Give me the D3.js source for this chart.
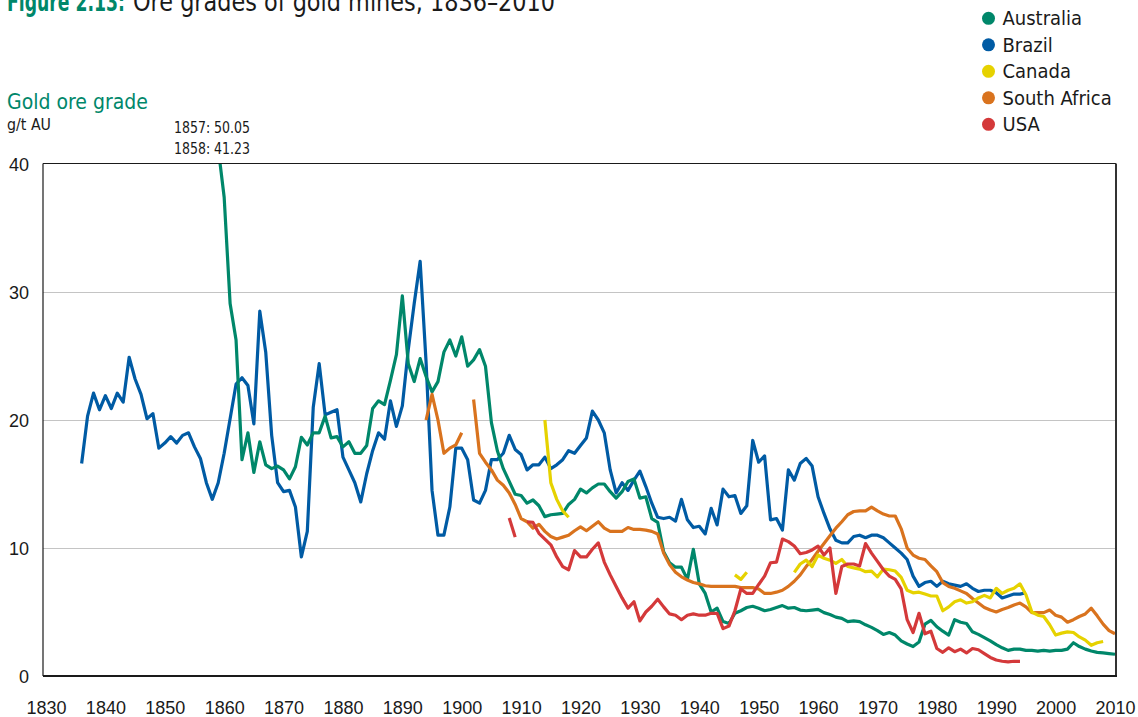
<!DOCTYPE html>
<html><head><meta charset="utf-8">
<script src="https://cdn.jsdelivr.net/npm/d3@7"></script>
<style>
html,body{margin:0;padding:0;background:#fff;}
svg{display:block;font-family:"Liberation Sans Narrow","Arial Narrow","DejaVu Sans Condensed","Roboto Condensed",sans-serif;font-stretch:condensed;}
</style></head>
<body><svg id="chart" width="1138" height="717"></svg>
<script>
// ---- data (visual year positions) ----
const xTicks = [1830,1840,1850,1860,1870,1880,1890,1900,1910,1920,1930,1940,1950,1960,1970,1980,1990,2000,2010];
const yTicks = [0,10,20,30,40];
const countries = ["Australia","Brazil","Canada","South Africa","USA"];
const colors = ["#00876a","#005ba4","#e6d200","#d9731e","#d4393a"];

const brazilStart = 1836;
const brazil = [16.6,20.3,22.1,20.8,21.9,20.9,22.1,21.4,24.9,23.2,22.0,20.1,20.5,17.8,18.2,18.7,18.2,18.8,19.0,17.9,
 17.0,15.1,13.8,15.1,17.4,20.1,22.8,23.3,22.7,19.7,28.5,25.3,18.8,15.1,14.4,14.5,13.2,9.3,11.3,21.0,
 24.4,20.4,20.6,20.8,17.1,16.1,15.1,13.6,15.8,17.6,19.0,18.5,21.5,19.5,21.1,25.5,29.1,32.4,24.5,14.5,
 11.0,11.0,13.2,17.8,17.8,16.9,13.75,13.5,14.5,16.9,16.9,17.4,18.8,17.7,17.3,16.1,16.5,16.5,17.1,16.2,
 16.5,16.9,17.6,17.4,18.0,18.6,20.7,20.0,19.0,16.1,14.3,15.1,14.5,15.3,16.0,14.8,13.5,12.4,12.3,12.4,
 12.1,13.8,12.2,11.6,11.7,11.1,13.1,11.8,14.6,14.0,14.1,12.7,13.3,18.4,16.7,17.2,12.2,12.3,11.4,16.1,
 15.3,16.6,17.0,16.4,14.0,12.7,11.5,10.6,10.4,10.4,10.9,11.0,10.8,11.0,11.0,10.8,10.4,10.0,9.6,9.1,
 7.8,7.0,7.3,7.4,7.0,7.4,7.2,7.1,7.0,7.2,6.85,6.6,6.7,6.7,6.5,6.1,6.25,6.4,6.4,6.5];

const australiaStart = 1858;
const australia = [50.05,41.23,37.4,29.1,26.25,16.9,19.0,15.9,18.3,16.5,16.2,16.4,16.1,15.4,16.35,18.65,18.05,19.0,19.0,20.3,
 18.6,18.7,17.9,18.3,17.4,17.4,18.0,20.9,21.5,21.2,23.1,25.1,29.7,24.4,23.0,24.8,23.4,22.2,23.0,25.3,
 26.25,25.0,26.5,24.2,24.7,25.5,24.2,19.8,17.6,16.2,15.2,14.2,14.1,13.5,13.75,13.3,12.45,12.6,12.65,12.7,
 13.4,13.8,14.6,14.3,14.7,15.0,15.0,14.4,13.9,14.4,15.2,15.4,13.9,14.0,12.3,12.0,9.7,8.85,8.5,8.5,
 7.55,9.9,7.2,6.45,5.0,5.3,4.25,4.1,4.9,5.1,5.35,5.45,5.3,5.1,5.2,5.35,5.5,5.3,5.35,5.15,
 5.1,5.15,5.2,4.95,4.8,4.6,4.5,4.25,4.3,4.25,4.0,3.8,3.55,3.25,3.4,3.2,2.75,2.5,2.3,2.65,
 4.05,4.35,3.85,3.5,3.2,4.4,4.2,4.1,3.45,3.25,3.0,2.75,2.45,2.2,2.0,2.1,2.1,2.0,2.0,1.95,
 2.0,1.95,2.0,2.0,2.1,2.6,2.3,2.1,1.95,1.85,1.8,1.75,1.7];

const southAfricaStart = 1894;
const southAfrica = [20.0,22.0,20.0,17.4,17.8,18.05,19.0,null,21.6,17.4,16.7,16.1,15.3,14.9,14.3,13.4,12.3,12.05,11.55,11.85,
 11.3,10.9,10.7,10.85,11.0,11.35,11.65,11.35,11.7,12.05,11.55,11.3,11.3,11.3,11.6,11.45,11.45,11.4,11.3,11.1,
 9.6,8.7,8.1,7.75,7.5,7.3,7.2,7.05,7.0,7.0,7.0,7.0,7.0,6.9,6.9,6.9,6.8,6.45,6.45,6.55,
 6.7,7.0,7.4,7.9,8.55,9.1,9.75,10.35,10.95,11.55,12.05,12.6,12.85,12.9,12.9,13.2,12.9,12.65,12.5,12.5,
 11.5,10.0,9.45,9.2,9.1,8.6,8.15,7.3,7.0,6.85,6.65,6.45,6.05,5.7,5.35,5.15,5.0,5.2,5.35,5.55,
 5.7,5.4,4.95,4.95,4.95,5.15,4.75,4.6,4.2,4.4,4.65,4.85,5.3,4.7,4.05,3.55,3.3];

const canada1Start = 1914;
const canada1 = [20.0,15.1,13.8,12.9,12.4];
const canada2Start = 1946;
const canada2 = [7.9,7.55,8.1];
const canada3Start = 1956;
const canada3 = [8.1,8.75,9.05,8.55,9.45,9.2,9.05,8.8,9.1,8.55,8.45,8.35,8.15,8.2,7.75,8.35,8.3,8.2,7.7,6.7,
 6.5,6.55,6.4,6.25,6.25,5.1,5.4,5.8,5.95,5.7,5.8,6.1,6.3,6.1,6.85,6.45,6.7,6.85,7.2,6.35,
 5.0,4.75,4.65,4.0,3.2,3.35,3.45,3.4,3.05,2.8,2.4,2.6,2.7];

const usa1Start = 1908;
const usa1 = [12.35,10.85];
const usa2Start = 1911;
const usa2 = [12.05,12.0,11.15,10.7,10.25,9.3,8.55,8.3,9.8,9.3,9.3,9.9,10.4,8.9,7.9,7.0,6.1,5.3,5.8,4.3,
 5.0,5.45,6.0,5.4,4.85,4.75,4.4,4.75,4.85,4.75,4.75,4.9,4.9,3.7,3.9,5.1,6.8,6.45,6.45,7.15,
 7.8,8.85,8.9,10.7,10.5,10.15,9.55,9.65,9.85,10.15,9.45,10.0,6.45,8.55,8.75,8.75,8.6,10.35,9.6,8.95,
 8.3,7.8,7.55,6.8,4.4,3.4,4.9,3.3,3.5,2.15,1.85,2.2,1.9,2.1,1.8,2.15,2.05,1.75,1.45,1.25,
 1.15,1.1,1.15,1.15];

const annotations = ["1857: 50.05","1858: 41.23"];

// ---- chart ----
const svg = d3.select("#chart");
const frame = {left:43, right:1116, top:163.5, bottom:676};
const x = d3.scaleLinear().domain([1830,2010]).range([46,1115]);
const y = d3.scaleLinear().domain([0,40]).range([676,164]);
const ink = "#1a1a1a";

// title (cropped at top as in the original)
svg.append("text").attr("x",7).attr("y",10.5).attr("font-size",27).attr("font-weight","bold")
  .attr("fill","#00876a").attr("textLength",118).attr("lengthAdjust","spacingAndGlyphs").text("Figure 2.13:");
svg.append("text").attr("x",133).attr("y",10.5).attr("font-size",27)
  .attr("fill",ink).attr("textLength",422).attr("lengthAdjust","spacingAndGlyphs").text("Ore grades of gold mines, 1836–2010");

svg.append("text").attr("x",7).attr("y",109).attr("font-size",21).attr("fill","#00876a").text("Gold ore grade");
svg.append("text").attr("x",7).attr("y",130).attr("font-size",16).attr("fill",ink)
  .attr("textLength",44).attr("lengthAdjust","spacingAndGlyphs").text("g/t AU");
svg.selectAll("text.ann").data(annotations).enter().append("text").attr("class","ann")
  .attr("x",174).attr("y",(d,i)=>132.5+i*21.5).attr("font-size",16.5).attr("fill",ink)
  .attr("textLength",76).attr("lengthAdjust","spacingAndGlyphs").text(d=>d);

// grid
svg.append("g").selectAll("line").data(yTicks.filter(t=>t>0&&t<40)).enter().append("line")
  .attr("x1",frame.left).attr("x2",frame.right).attr("y1",d=>Math.round(y(d))+0.5).attr("y2",d=>Math.round(y(d))+0.5)
  .attr("stroke","#c4c4c4").attr("stroke-width",1.2);

// y axis labels
const yAxis = d3.axisLeft(y).tickValues(yTicks).tickSize(0).tickPadding(0).tickFormat(d3.format("d"));
const gy = svg.append("g").attr("transform","translate(29,0)").call(yAxis);
gy.select(".domain").remove();
gy.selectAll("text").attr("font-size",18).attr("fill",ink).attr("font-family",null).attr("dy","0.36em");

// x axis labels
const xAxis = d3.axisBottom(x).tickValues(xTicks).tickSize(0).tickPadding(0).tickFormat(d3.format("d"));
const gx = svg.append("g").attr("transform","translate(0,701)").call(xAxis);
gx.select(".domain").remove();
gx.selectAll("text").attr("font-size",18).attr("fill",ink).attr("font-family",null).attr("dy","0.73em");

// clip
svg.append("clipPath").attr("id","clip").append("rect")
  .attr("x",frame.left).attr("y",frame.top).attr("width",frame.right-frame.left).attr("height",frame.bottom-frame.top);

const line = d3.line().defined(d=>d[1]!=null).x(d=>x(d[0])).y(d=>y(d[1])).curve(d3.curveLinear);
function pts(start, arr){ return arr.map((v,i)=>[start+i, v]); }
const series = [
  {c:1, segs:[pts(brazilStart,brazil)]},
  {c:0, segs:[pts(australiaStart,australia)]},
  {c:3, segs:[pts(southAfricaStart,southAfrica)]},
  {c:2, segs:[pts(canada1Start,canada1),pts(canada2Start,canada2),pts(canada3Start,canada3)]},
  {c:4, segs:[pts(usa1Start,usa1),pts(usa2Start,usa2)]}
];
const gl = svg.append("g").attr("clip-path","url(#clip)");
series.forEach(s=>{
  s.segs.forEach(seg=>{
    gl.append("path").datum(seg).attr("d",line).attr("fill","none")
      .attr("stroke",colors[s.c]).attr("stroke-width",3.2).attr("stroke-linejoin","round").attr("stroke-linecap","butt");
  });
});

// frame
svg.append("line").attr("x1",frame.left).attr("x2",frame.right).attr("y1",frame.top).attr("y2",frame.top).attr("stroke",ink).attr("stroke-width",1.2);
svg.append("line").attr("x1",frame.left).attr("x2",frame.left).attr("y1",frame.top).attr("y2",frame.bottom).attr("stroke",ink).attr("stroke-width",1.2);
svg.append("line").attr("x1",frame.right).attr("x2",frame.right).attr("y1",frame.top).attr("y2",frame.bottom).attr("stroke","#333").attr("stroke-width",2);
svg.append("line").attr("x1",frame.left).attr("x2",frame.right+1).attr("y1",frame.bottom).attr("y2",frame.bottom).attr("stroke",ink).attr("stroke-width",2.2);

// legend
const lg = svg.append("g").selectAll("g").data(countries).enter().append("g")
  .attr("transform",(d,i)=>`translate(988.5,${18.3+i*26.5})`);
lg.append("circle").attr("r",6.5).attr("fill",(d,i)=>colors[i]);
lg.append("text").attr("x",14).attr("y",7).attr("font-size",20).attr("fill",ink).text(d=>d);
</script></body></html>
